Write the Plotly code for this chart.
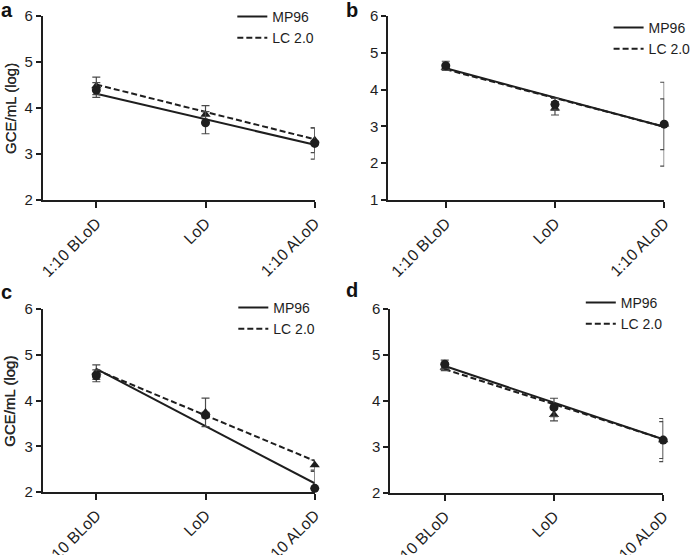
import plotly.graph_objects as go

categories = ["1:10 BLoD", "LoD", "1:10 ALoD"]
fit_x = ["1:10 BLoD", "1:10 ALoD"]
panel_letters = ["a", "b", "c", "d"]
y_title = "GCE/mL (log)"
series_names = ["MP96", "LC 2.0"]

# Panel a
mp96_a = [4.39, 3.68, 3.23]
mp96_err_a = [0.16, 0.24, 0.34]
lc_a = [4.48, 3.86, 3.30]
lc_err_a = [0.19, 0.19, 0.27]
mp96_fit_a = [4.31, 3.20]
lc_fit_a = [4.51, 3.32]

# Panel b
mp96_b = [4.65, 3.60, 3.06]
mp96_err_b = [0.12, 0.16, 1.14]
lc_b = [4.60, 3.49, 3.06]
lc_err_b = [0.07, 0.18, 0.69]
mp96_fit_b = [4.58, 2.99]
lc_fit_b = [4.55, 2.99]

# Panel c
mp96_c = [4.54, 3.68, 2.08]
mp96_err_c = [0.13, 0.06, 0.37]
lc_c = [4.62, 3.74, 2.59]
lc_err_c = [0.16, 0.31, 0.11]
mp96_fit_c = [4.69, 2.19]
lc_fit_c = [4.67, 2.68]

# Panel d
mp96_d = [4.80, 3.86, 3.15]
mp96_err_d = [0.09, 0.20, 0.47]
lc_d = [4.73, 3.70, 3.15]
lc_err_d = [0.07, 0.13, 0.40]
mp96_fit_d = [4.76, 3.17]
lc_fit_d = [4.69, 3.17]

panels = [
    (mp96_a, mp96_err_a, lc_a, lc_err_a, mp96_fit_a, lc_fit_a),
    (mp96_b, mp96_err_b, lc_b, lc_err_b, mp96_fit_b, lc_fit_b),
    (mp96_c, mp96_err_c, lc_c, lc_err_c, mp96_fit_c, lc_fit_c),
    (mp96_d, mp96_err_d, lc_d, lc_err_d, mp96_fit_d, lc_fit_d),
]
y_ranges = [[2, 6], [1, 6], [2, 6], [2, 6]]

W, H = 696, 555
# pixel boxes: (left, right, top, bottom, first-category px)
boxes = [
    (43, 317, 16, 200, 97),
    (391, 669, 16, 200, 449),
    (43, 317, 309, 492, 97),
    (393, 668, 309, 493, 448),
]
legend_pos = [(234, 1), (613, 12), (235, 292), (585, 287)]
letter_pos = [(7, 10), (355, 10), (7, 292), (355, 290)]

INK = "#1e1e1e"
ERR = "#4a4a4a"
FONT = "Liberation Sans, Arial, sans-serif"

fig = go.Figure()
layout = dict(
    width=W, height=H, margin=dict(l=0, r=0, t=0, b=0),
    paper_bgcolor="white", plot_bgcolor="white",
    font=dict(family=FONT, size=14, color=INK),
    annotations=[],
)

for i, (mp, mpe, lc, lce, mpf, lcf) in enumerate(panels):
    n = "" if i == 0 else str(i + 1)
    xa, ya = "x" + n, "y" + n
    leg = "legend" + n
    L, R, T, B, c0 = boxes[i]
    unit = (R - c0) / 2.0
    xmin = -(c0 - L) / unit

    fig.add_trace(go.Scatter(x=fit_x, y=mpf, mode="lines", name=series_names[0],
                             line=dict(color=INK, width=2), xaxis=xa, yaxis=ya,
                             legend=leg, hoverinfo="skip"))
    fig.add_trace(go.Scatter(x=fit_x, y=lcf, mode="lines", name=series_names[1],
                             line=dict(color=INK, width=2, dash="6px,3px"),
                             xaxis=xa, yaxis=ya, legend=leg, hoverinfo="skip"))
    fig.add_trace(go.Scatter(x=categories, y=lc, mode="markers", showlegend=False,
                             marker=dict(symbol="triangle-up", size=9, color=INK),
                             error_y=dict(type="data", array=lce, color=ERR,
                                          thickness=1.2, width=4),
                             cliponaxis=False, xaxis=xa, yaxis=ya))
    fig.add_trace(go.Scatter(x=categories, y=mp, mode="markers", showlegend=False,
                             marker=dict(symbol="circle", size=9, color=INK),
                             error_y=dict(type="data", array=mpe, color=ERR,
                                          thickness=1.2, width=4),
                             cliponaxis=False, xaxis=xa, yaxis=ya))

    layout["xaxis" + n] = dict(
        domain=[L / W, R / W], anchor=ya, type="category",
        categoryorder="array", categoryarray=categories,
        range=[xmin, 2], showline=True, linecolor=INK, linewidth=1.5,
        ticks="outside", ticklen=6, tickwidth=1.5, tickcolor=INK,
        tickangle=-45, showgrid=False, zeroline=False, automargin=False,
        tickfont=dict(size=16, color=INK), fixedrange=True,
    )
    yr = y_ranges[i]
    layout["yaxis" + n] = dict(
        domain=[1 - B / H, 1 - T / H], anchor=xa, range=yr,
        tickmode="linear", tick0=yr[0], dtick=1,
        showline=True, linecolor=INK, linewidth=1.5,
        ticks="outside", ticklen=5, tickwidth=1.5, tickcolor=INK,
        showgrid=False, zeroline=False, automargin=False,
        tickfont=dict(size=15, color=INK), fixedrange=True,
    )
    lx, ly = legend_pos[i]
    layout[leg] = dict(
        x=lx / W, y=1 - ly / H, xanchor="left", yanchor="top",
        bgcolor="rgba(0,0,0,0)", borderwidth=0,
        font=dict(size=14, color=INK), tracegroupgap=0,
        itemwidth=30,
    )
    layout["annotations"].append(dict(
        text=y_title, textangle=-90, x=10 / W, y=1 - (T + B) / 2 / H,
        xref="paper", yref="paper", xanchor="center", yanchor="middle",
        showarrow=False, font=dict(size=15, color="#2a2a2a", weight="normal")))
    px, py = letter_pos[i]
    layout["annotations"].append(dict(
        text="<b>%s</b>" % panel_letters[i], x=px / W, y=1 - py / H,
        xref="paper", yref="paper", xanchor="center", yanchor="middle",
        showarrow=False, font=dict(size=20, color="#111")))

fig.update_layout(**layout)
fig.write_html("out.html",
               config={"displayModeBar": False},
               post_script="document.body.style.margin='0px';"
                           "document.body.style.overflow='hidden';")
